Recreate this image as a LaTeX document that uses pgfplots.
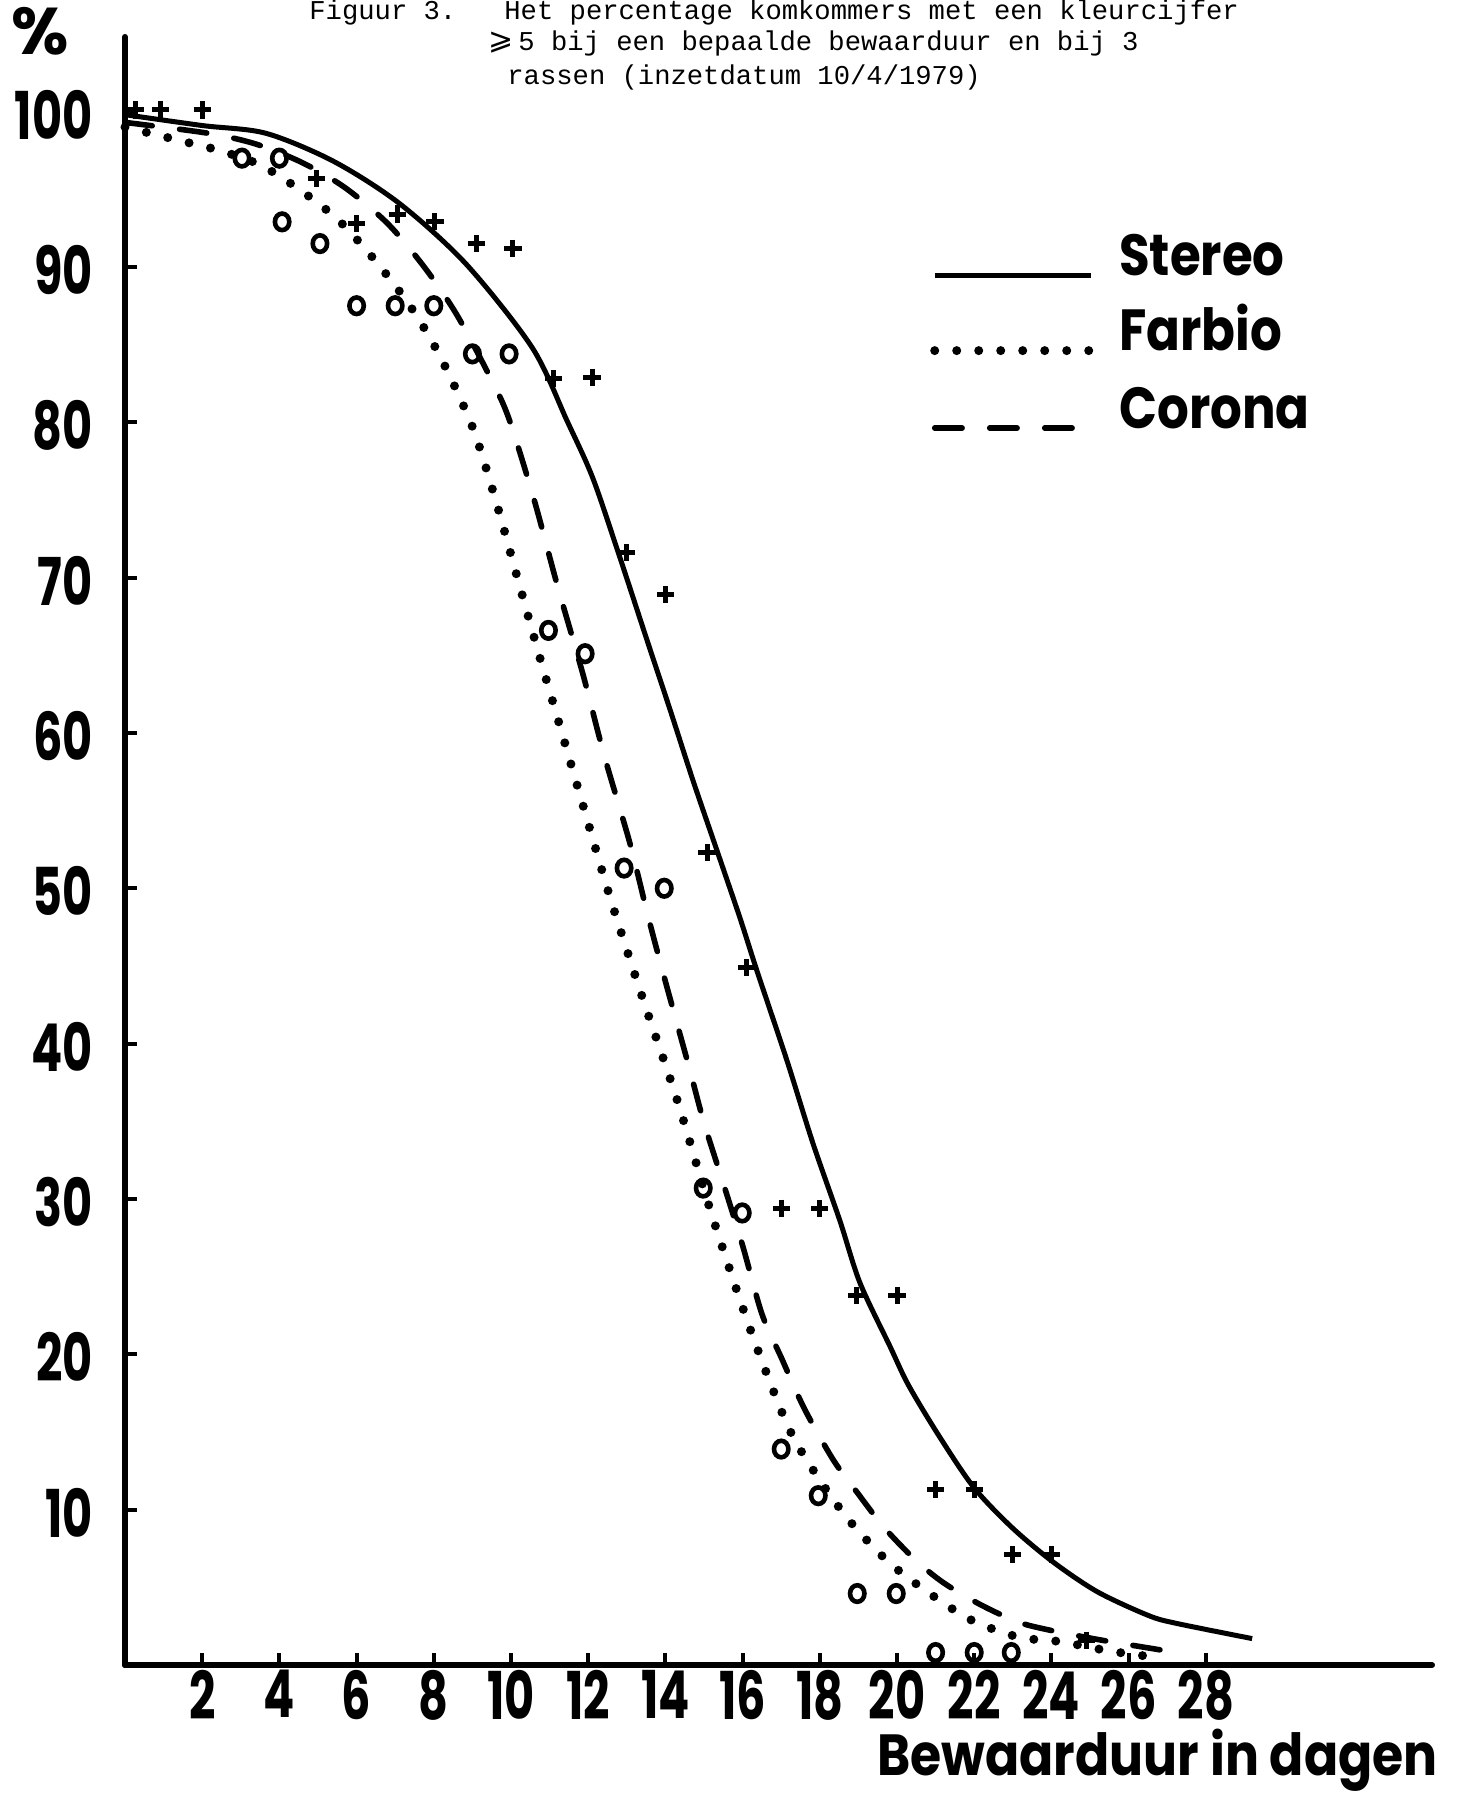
\documentclass[border=0pt]{standalone}
\usepackage{pgfplots}
\pgfplotsset{compat=1.18}
\usepackage{fontspec}
\setmainfont{Poppins}
\newfontfamily\mono{Liberation Mono}
\newfontfamily\dejavu{DejaVu Sans}
\usepackage{graphicx}
\newcommand{\lab}[1]{\scalebox{0.7}[1]{\bfseries #1}}
\begin{document}
\begin{tikzpicture}
\begin{axis}[
  name=ax, at={(0,0)}, anchor=south west,
  width=653.5pt, height=814pt, scale only axis,
  xmin=0, xmax=33.86, ymin=0, ymax=104.8,
  axis x line*=bottom, axis y line*=left,
  axis line style={line width=3pt, line cap=round},
  tick align=inside, major tick length=6pt,
  tick style={line width=2pt, black},
  xtick={2,4,...,28},
  xticklabels={\lab{2},\lab{4},\lab{6},\lab{8},\lab{10},\lab{12},\lab{14},\lab{16},\lab{18},\lab{20},\lab{22},\lab{24},\lab{26},\lab{28}},
  ytick={10,20,...,100},
  yticklabels={\lab{10},\lab{20},\lab{30},\lab{40},\lab{50},\lab{60},\lab{70},\lab{80},\lab{90},\lab{100}},
  xticklabel style={anchor=north, inner sep=0pt, yshift=-2.5pt, font=\fontsize{33}{33}\selectfont},
  yticklabel style={anchor=east, inner sep=0pt, xshift=-16pt, yshift=-1.5pt, font=\fontsize{33}{33}\selectfont},
  legend style={draw=none, fill=none, at={(axis cs:20.85,92.2)}, anchor=north west,
    inner sep=0pt, row sep=15.5pt,
    cells={anchor=base west},
    nodes={inner sep=0pt, text height=21pt, text depth=0pt},
    font=\fontsize{29}{29}\selectfont\bfseries,
    /tikz/every odd column/.style={column sep=12pt}},
  legend image code/.code={\draw[#1] (0pt,0pt) -- (78pt,0pt);},
  clip=false,
]
% Stereo
\addplot[black, line width=2.5pt, smooth, tension=0.5] coordinates {
(0,99.8) (2,99.1) (3.65,98.6) (5.4,96.8) (7.1,94.1) (8.83,90.2) (10.55,84.8) (11.45,80.1) (12.12,76.4) (12.82,71.3) (13.52,66.0) (14.12,61.5) (14.72,56.9) (15.34,52.4) (15.93,48.1) (16.37,44.7) (17.15,38.9) (17.82,33.6) (18.52,28.6) (19.04,24.6) (19.82,20.5) (20.3,18.0) (21.1,14.7) (22.0,11.4) (23.0,8.8) (24.06,6.6) (25.2,4.7) (26.5,3.2) (27.2,2.7) (29.2,1.7)
};
\addlegendentry{\scalebox{0.86}[1]{Stereo}}
% Farbio
\addplot[black, line width=4.5pt, line cap=round, dash pattern=on 0pt off 11pt, smooth, tension=0.5] coordinates {
(0,99.0) (1.47,98.1) (2.43,97.5) (3.47,96.6) (4.45,95.1) (5.49,93.1) (6.45,90.5) (7.38,87.5) (8.15,84.3) (9.0,79.7) (9.6,75.0) (10.13,70.3) (10.73,65.0) (11.26,60.5) (11.94,54.7) (12.58,49.3) (13.4,43.0) (14.3,36.4) (15.2,29.0) (16.2,21.6) (17.15,15.5) (17.84,12.5) (18.73,9.4) (19.75,6.7) (20.79,4.7) (21.92,2.9) (23.14,1.8) (24.24,1.5) (25.5,0.9) (26.7,0.5)
};
\addlegendentry{\scalebox{0.86}[1]{Farbio}}
% Corona
\addplot[black, line width=2.8pt, line cap=round, dash pattern=on 13.7pt off 13.8pt, smooth, tension=0.5] coordinates {
(0,99.3) (2.16,98.6) (3.4,97.9) (4.6,96.7) (5.7,95.1) (6.8,92.8) (7.75,90.0) (8.6,86.9) (9.5,82.7) (9.95,80.2) (10.6,75.0) (11.2,69.5) (11.85,63.9) (12.42,58.5) (13.08,52.9) (13.55,48.2) (14.0,44.0) (14.6,38.6) (15.0,34.9) (15.5,31.0) (16.0,27.0) (16.5,22.6) (17.0,19.8) (17.6,16.5) (18.35,13.2) (18.97,11.1) (19.65,8.9) (20.46,6.8) (21.2,5.3) (22.15,3.9) (23.1,2.8) (23.85,2.3) (25.3,1.6) (27.5,0.7)
};
\addlegendentry{\scalebox{0.86}[1]{Corona}}
% Stereo observations (+)
\addplot[forget plot, only marks, mark=+, mark size=4.3pt, mark options={line width=2.5pt, black}] coordinates {
(0.26,100.1) (0.91,100.1) (2.0,100.1) (4.97,95.7) (6.0,92.8) (7.05,93.4) (8.03,92.9) (9.1,91.5) (10.05,91.2) (11.1,82.8) (12.1,82.9) (13,71.6) (14,68.9) (15.08,52.3) (16.1,44.9) (17,29.4) (18,29.4) (18.96,23.8) (20,23.8) (21,11.3) (22,11.3) (23,7.1) (24,7.1) (24.9,1.6)
};
% Farbio / Corona observations (o)
\addplot[forget plot, only marks, mark=o, mark size=3.6pt, mark options={line width=2.3pt, black, yscale=1.15}] coordinates {
(3.03,97.0) (4.0,97.0) (4.07,92.9) (5.05,91.5) (6,87.5) (7,87.5) (8,87.5) (9,84.4) (9.95,84.4) (10.97,66.6) (11.92,65.1) (12.93,51.3) (13.97,50.0) (14.98,30.7) (15.99,29.1) (17,13.9) (17.96,10.9) (18.97,4.6) (19.98,4.6) (21,0.8) (22,0.8) (22.96,0.8)
};
\end{axis}
\begin{scope}[shift={(ax.south west)}]
\begin{scope}[x=0.5pt,y=-0.5pt,shift={(-125,-1665)}]
\node[font=\fontsize{33}{33}\selectfont\bfseries, inner sep=0pt] at (40,31) {\%};
\node[anchor=base west, inner sep=0pt, font=\fontsize{29}{29}\selectfont\bfseries] at (877,1775) {\scalebox{0.87}[1]{Bewaarduur in dagen}};
\node[anchor=west, inner sep=0pt, font=\mono\fontsize{13.6}{13.6}\selectfont] at (309,12) {Figuur 3.};
\node[anchor=west, inner sep=0pt, font=\mono\fontsize{13.6}{13.6}\selectfont] at (504,12) {Het percentage komkommers met een kleurcijfer};
\node[anchor=west, inner sep=0pt, font=\dejavu\fontsize{15}{15}\selectfont] at (488,43) {⩾};
\node[anchor=west, inner sep=0pt, font=\mono\fontsize{13.6}{13.6}\selectfont] at (518,43) {5 bij een bepaalde bewaarduur en bij 3};
\node[anchor=west, inner sep=0pt, font=\mono\fontsize{13.6}{13.6}\selectfont] at (507,77) {rassen (inzetdatum 10/4/1979)};
\pgfresetboundingbox
\path[use as bounding box] (0,0) rectangle (1468,1797);
\end{scope}
\end{scope}
\end{tikzpicture}
\end{document}
